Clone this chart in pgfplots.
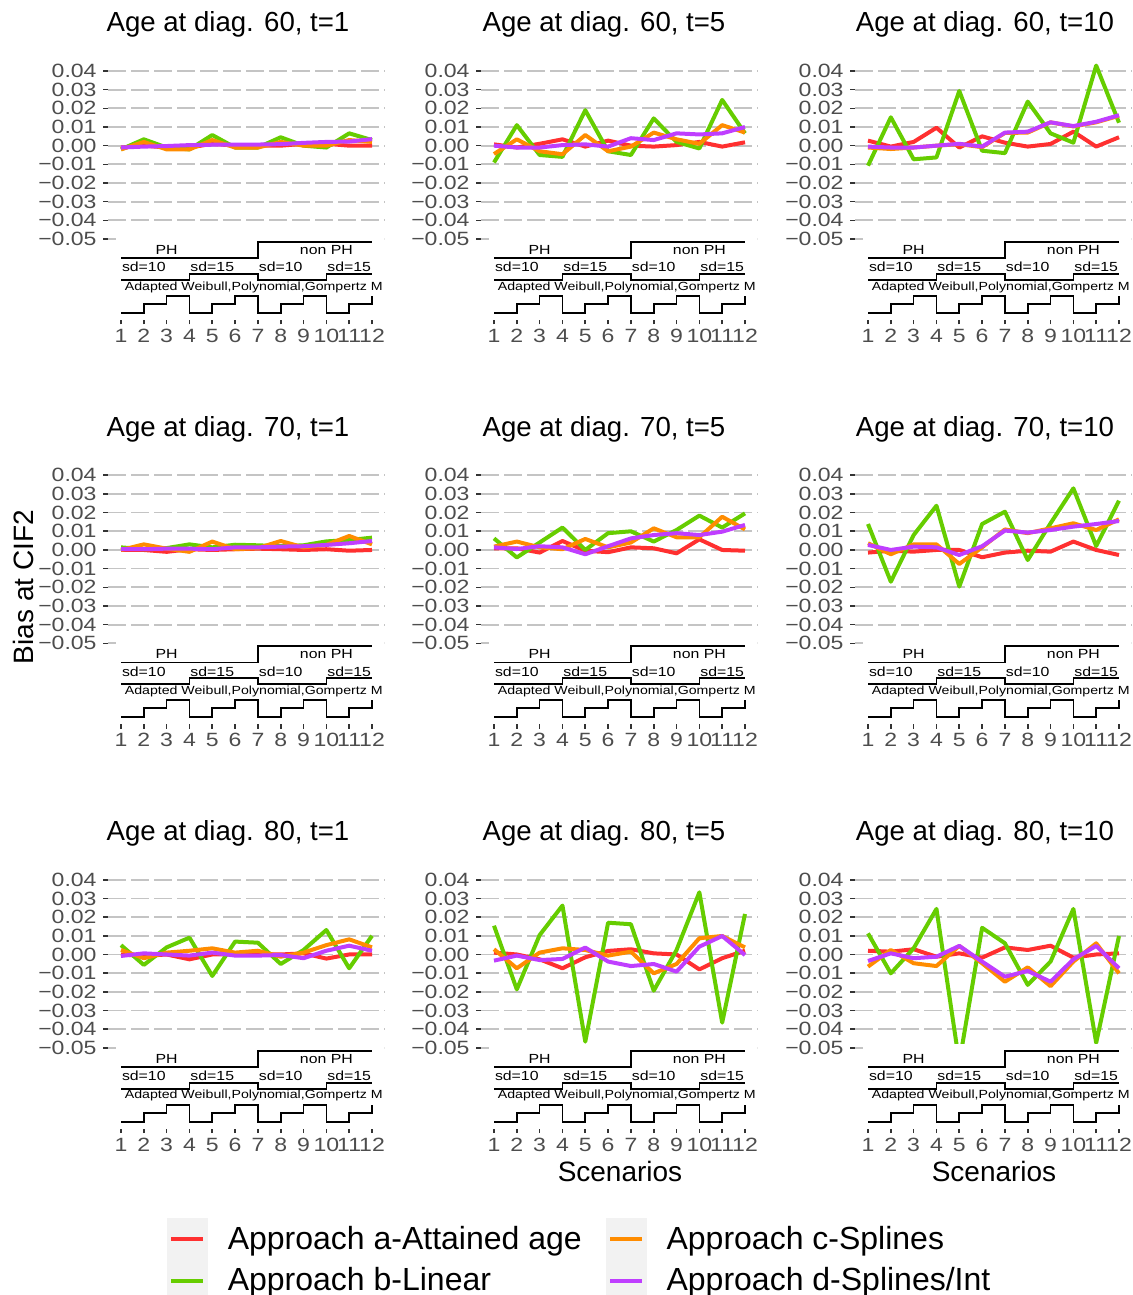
\documentclass[border=0pt]{standalone}
\usepackage{pgfplots}
\pgfplotsset{compat=1.18}
\usepackage{pgfplotstable}
\usepackage{fontspec}
\setmainfont{Liberation Sans}
\newfontfamily\stretchfam[FakeStretch=1.2]{Liberation Sans}

\definecolor{cA}{HTML}{FF3030}
\definecolor{cB}{HTML}{66CD00}
\definecolor{cC}{HTML}{FF8C00}
\definecolor{cD}{HTML}{BF3EFF}
\definecolor{gridgray}{HTML}{C4C4C4}
\definecolor{tickgray}{HTML}{4D4D4D}
\definecolor{tickmark}{HTML}{333333}
\definecolor{keybg}{HTML}{F2F2F2}

\newcommand\tickfont{\stretchfam\fontsize{9.6pt}{9.6pt}\selectfont}
\newcommand\stepfont{\stretchfam\fontsize{6.6pt}{6.6pt}\selectfont}
\newcommand\adfont{\stretchfam\fontsize{5.9pt}{5.9pt}\selectfont}
\newcommand\titlefont{\fontsize{13.8pt}{14pt}\selectfont}

\pgfplotstableread{
x ph sd m
1 -0.0602 -0.0719 -0.0896
2 -0.0602 -0.0719 -0.0848
3 -0.0602 -0.0719 -0.0805
4 -0.0602 -0.0687 -0.0896
5 -0.0602 -0.0687 -0.0848
6 -0.0602 -0.0687 -0.0805
7 -0.0516 -0.0719 -0.0896
8 -0.0516 -0.0719 -0.0848
9 -0.0516 -0.0719 -0.0805
10 -0.0516 -0.0687 -0.0896
11 -0.0516 -0.0687 -0.0848
12 -0.0516 -0.0687 -0.0805
}\stepstab

% Age 60, t=1
\pgfplotstableread{
x a b c d
1 -0.001 -0.002 -0.002 -0.001
2 0.000 0.0034 0.002 -0.0005
3 -0.001 -0.001 -0.002 -0.0002
4 -0.001 -0.002 -0.002 0.0003
5 0.001 0.0057 0.003 0.0005
6 0.000 -0.001 -0.001 0.0005
7 0.000 -0.001 -0.001 0.0006
8 0.000 0.0045 0.002 0.0008
9 0.001 0.000 0.000 0.0015
10 0.001 -0.001 0.000 0.002
11 0.000 0.0066 0.003 0.0022
12 0.000 0.003 0.002 0.0035
}\dA
% Age 60, t=5
\pgfplotstableread{
x a b c d
1 0.0007 -0.009 -0.0045 0.000
2 -0.001 0.011 0.0034 -0.001
3 0.001 -0.005 -0.003 -0.001
4 0.0034 -0.006 -0.0046 0.0003
5 -0.0005 0.019 0.0057 0.0007
6 0.0027 -0.003 -0.003 -0.0005
7 0.000 -0.005 -0.0005 0.004
8 -0.0005 0.0146 0.007 0.003
9 0.0003 0.002 0.0034 0.0066
10 0.002 -0.0015 0.001 0.006
11 -0.0005 0.0245 0.011 0.0066
12 0.0018 0.0066 0.007 0.010
}\dB
% Age 60, t=10
\pgfplotstableread{
x a b c d
1 0.0027 -0.0107 -0.001 -0.0005
2 -0.0005 0.0152 -0.0018 -0.001
3 0.002 -0.0073 -0.001 -0.001
4 0.0096 -0.0063 0.000 0.000
5 -0.001 0.0293 0.0008 0.001
6 0.005 -0.0027 -0.0008 -0.0005
7 0.0016 -0.004 0.0068 0.007
8 -0.0005 0.0236 0.007 0.0075
9 0.0009 0.0066 0.0125 0.0125
10 0.0075 0.0016 0.0103 0.0105
11 -0.0005 0.0429 0.0125 0.0128
12 0.0045 0.0123 0.016 0.0163
}\dC
% Age 70, t=1
\pgfplotstableread{
x a b c d
1 0.000 0.0014 0.000 0.0004
2 0.000 0.0004 0.003 0.0004
3 -0.001 0.001 0.0007 0.0007
4 0.0004 0.003 -0.001 0.0007
5 0.000 0.0014 0.0045 0.0004
6 0.0004 0.0028 0.0004 0.0014
7 0.0007 0.0025 0.001 0.0014
8 0.0004 0.002 0.0048 0.0018
9 0.000 0.0025 0.0014 0.002
10 0.0004 0.0046 0.0027 0.0027
11 -0.0004 0.0053 0.0075 0.0036
12 0.000 0.0066 0.003 0.0048
}\dD
% Age 70, t=5
\pgfplotstableread{
x a b c d
1 0.0009 0.0062 0.0018 0.0014
2 0.0009 -0.004 0.0045 0.0005
3 -0.0014 0.004 0.0014 0.002
4 0.0048 0.012 0.0004 0.0014
5 -0.0004 0.000 0.0059 -0.0023
6 -0.0012 0.009 0.0014 0.002
7 0.0014 0.010 0.004 0.0062
8 0.0009 0.0045 0.0116 0.008
9 -0.0018 0.0107 0.0068 0.009
10 0.0057 0.0184 0.0068 0.008
11 0.000 0.012 0.0178 0.0098
12 -0.0004 0.0196 0.011 0.0134
}\dE
% Age 70, t=10
\pgfplotstableread{
x a b c d
1 -0.0014 0.0139 0.0036 0.0027
2 -0.0004 -0.017 -0.0023 0.000
3 -0.0009 0.008 0.003 0.0018
4 0.000 0.0237 0.003 0.0014
5 0.000 -0.0196 -0.0075 -0.0027
6 -0.0039 0.0139 0.0014 0.002
7 -0.0014 0.0205 0.011 0.0104
8 -0.0004 -0.0054 0.009 0.0093
9 -0.0009 0.0143 0.0116 0.0107
10 0.0045 0.033 0.0143 0.0125
11 0.000 0.0021 0.0107 0.0139
12 -0.0027 0.0264 0.0164 0.0155
}\dF
% Age 80, t=1
\pgfplotstableread{
x a b c d
1 0.000 0.005 0.0024 -0.0008
2 -0.0008 -0.0056 -0.002 0.0006
3 0.000 0.0038 0.001 0.000
4 -0.0026 0.009 0.002 -0.0006
5 0.000 -0.0115 0.0033 0.001
6 0.000 0.0069 0.001 -0.0006
7 0.000 0.0063 0.002 -0.0006
8 0.000 -0.0051 -0.0012 -0.0003
9 0.0006 0.0024 0.001 -0.002
10 -0.0022 0.0131 0.005 0.002
11 0.000 -0.0074 0.0081 0.0047
12 0.000 0.010 0.0038 0.002
}\dG
% Age 80, t=5
\pgfplotstableread{
x a b c d
1 0.001 0.0154 0.0028 -0.0033
2 0.000 -0.0187 -0.0074 -0.0006
3 -0.0026 0.0104 0.001 -0.003
4 -0.0074 0.0262 0.0033 -0.0024
5 -0.0015 -0.0467 0.0024 0.0037
6 0.0019 0.017 -0.0006 -0.0038
7 0.0028 0.0162 0.0015 -0.0062
8 0.0006 -0.0194 -0.0101 -0.0051
9 0.000 0.0024 -0.0051 -0.0092
10 -0.008 0.0333 0.0087 0.0042
11 -0.002 -0.0365 0.0099 0.0099
12 0.002 0.0217 0.0038 -0.0003
}\dH
% Age 80, t=10
\pgfplotstableread{
x a b c d
1 0.002 0.0113 -0.0065 -0.0035
2 0.0015 -0.0101 0.0024 0.0006
3 0.0028 0.0033 -0.0047 -0.002
4 -0.0012 0.0244 -0.0062 -0.0012
5 0.0006 -0.058 0.0046 0.0046
6 -0.0017 0.0143 -0.0047 -0.0038
7 0.0038 0.006 -0.0146 -0.0119
8 0.0024 -0.0163 -0.0069 -0.0088
9 0.0047 -0.0038 -0.017 -0.0146
10 -0.0017 0.0244 -0.0038 -0.0026
11 0.000 -0.0473 0.006 0.0046
12 0.0006 0.0099 -0.0101 -0.0074
}\dI

\pgfplotsset{
  panel/.style={
    scale only axis, width=138.05pt, height=130.7pt, anchor=south west,
    xmin=0.45, xmax=12.55, ymin=-0.093, ymax=0.047,
    axis x line*=bottom, axis y line*=left, axis line style={draw=none},
    scaled y ticks=false, scaled x ticks=false,
    xtick={1,2,3,4,5,6,7,8,9,10,11,12},
    xticklabels={1,2,3,4,5,6,7,8,9,10,11,12},
    ytick={-0.05,-0.04,-0.03,-0.02,-0.01,0,0.01,0.02,0.03,0.04},
    yticklabels={−0.05,−0.04,−0.03,−0.02,−0.01,0.00,0.01,0.02,0.03,0.04},
    tick align=outside, major tick length=2.5pt,
    tick style={color=tickmark, line width=0.8pt},
    ymajorgrids, xmajorgrids=false,
    grid style={color=gridgray, line width=0.85pt, dash pattern=on 9pt off 2.5pt},
    yticklabel style={font=\tickfont, text=tickgray, inner sep=0pt, anchor=east, xshift=-3.25pt},
    xticklabel style={font=\tickfont, text=tickgray, inner sep=0pt, anchor=north, yshift=-2.25pt},
  },
  dataline/.style={line width=2pt, line join=round, forget plot},
  stepline/.style={const plot, black, line width=0.85pt, forget plot},
}

\newcommand\panelcontent[1]{%
  \addplot[dataline, cA] table[x=x, y=a]{#1};
  \addplot[dataline, cB] table[x=x, y=b]{#1};
  \addplot[dataline, cC] table[x=x, y=c]{#1};
  \addplot[dataline, cD] table[x=x, y=d]{#1};
  \fill[white] (axis cs:0.78,-0.048) rectangle (axis cs:12.7,-0.1);
  \addplot[stepline] table[x=x, y=ph]{\stepstab};
  \addplot[stepline] table[x=x, y=sd]{\stepstab};
  \addplot[stepline] table[x=x, y=m]{\stepstab};
  \node[font=\stepfont, inner sep=0pt] at (axis cs:3,-0.0559) {PH};
  \node[font=\stepfont, inner sep=0pt] at (axis cs:10,-0.0559) {non PH};
  \node[font=\stepfont, inner sep=0pt] at (axis cs:2,-0.0650) {sd=10};
  \node[font=\stepfont, inner sep=0pt] at (axis cs:5,-0.0650) {sd=15};
  \node[font=\stepfont, inner sep=0pt] at (axis cs:8,-0.0650) {sd=10};
  \node[font=\stepfont, inner sep=0pt] at (axis cs:11,-0.0650) {sd=15};
  \node[font=\adfont, inner sep=0pt, anchor=west] at (axis cs:1.15,-0.0757) {Adapted Weibull,Polynomial,Gompertz M};
}

\begin{document}
\begin{tikzpicture}
\path[use as bounding box] (0pt,0pt) rectangle (566pt,-647.5pt);

% Row 1
\begin{axis}[panel, at={(54.225pt,-159.65pt)}]
\panelcontent{\dA}
\end{axis}
\begin{axis}[panel, at={(240.725pt,-159.65pt)}]
\panelcontent{\dB}
\end{axis}
\begin{axis}[panel, at={(427.725pt,-159.65pt)}]
\panelcontent{\dC}
\end{axis}
% Row 2
\begin{axis}[panel, at={(54.225pt,-361.8pt)}]
\panelcontent{\dD}
\end{axis}
\begin{axis}[panel, at={(240.725pt,-361.8pt)}]
\panelcontent{\dE}
\end{axis}
\begin{axis}[panel, at={(427.725pt,-361.8pt)}]
\panelcontent{\dF}
\end{axis}
% Row 3
\begin{axis}[panel, at={(54.225pt,-564.05pt)}]
\panelcontent{\dG}
\end{axis}
\begin{axis}[panel, at={(240.725pt,-564.05pt)},
  legend columns=2, legend cell align=left,
  legend style={at={(-1.1389,-0.3439)}, anchor=north west, draw=none, fill=none,
    inner sep=0pt, outer sep=0pt, column sep=0pt, row sep=0pt,
    nodes={inner sep=0pt, outer sep=0pt},
    font=\fontsize{16pt}{16pt}\selectfont},
  legend image code/.code={%
    \fill[keybg] (0pt,-10.25pt) rectangle (20pt,10.25pt);
    \draw[#1, line width=2pt] (2pt,0pt) -- (18pt,0pt);}]
\addlegendimage{cA}\addlegendentry{\hspace{10pt}\makebox[189pt][l]{Approach a-Attained age}}
\addlegendimage{cC}\addlegendentry{\hspace{10pt}Approach c-Splines}
\addlegendimage{cB}\addlegendentry{\hspace{10pt}\makebox[189pt][l]{Approach b-Linear}}
\addlegendimage{cD}\addlegendentry{\hspace{10pt}Approach d-Splines/Int}
\panelcontent{\dH}
\end{axis}
\begin{axis}[panel, at={(427.725pt,-564.05pt)}]
\panelcontent{\dI}
\end{axis}

% Titles
\node[font=\titlefont, anchor=base] at (114pt,-16pt) {Age at diag. 60, t=1};
\node[font=\titlefont, anchor=base] at (302pt,-16pt) {Age at diag. 60, t=5};
\node[font=\titlefont, anchor=base] at (492.5pt,-16pt) {Age at diag. 60, t=10};
\node[font=\titlefont, anchor=base] at (114pt,-218.15pt) {Age at diag. 70, t=1};
\node[font=\titlefont, anchor=base] at (302pt,-218.15pt) {Age at diag. 70, t=5};
\node[font=\titlefont, anchor=base] at (492.5pt,-218.15pt) {Age at diag. 70, t=10};
\node[font=\titlefont, anchor=base] at (114pt,-420.4pt) {Age at diag. 80, t=1};
\node[font=\titlefont, anchor=base] at (302pt,-420.4pt) {Age at diag. 80, t=5};
\node[font=\titlefont, anchor=base] at (492.5pt,-420.4pt) {Age at diag. 80, t=10};

% Axis titles
\node[font=\fontsize{14pt}{14pt}\selectfont, rotate=90] at (11.5pt,-293.5pt) {Bias at CIF2};
\node[font=\fontsize{14pt}{14pt}\selectfont, anchor=base] at (310pt,-590.5pt) {Scenarios};
\node[font=\fontsize{14pt}{14pt}\selectfont, anchor=base] at (497pt,-590.5pt) {Scenarios};
\end{tikzpicture}
\end{document}
